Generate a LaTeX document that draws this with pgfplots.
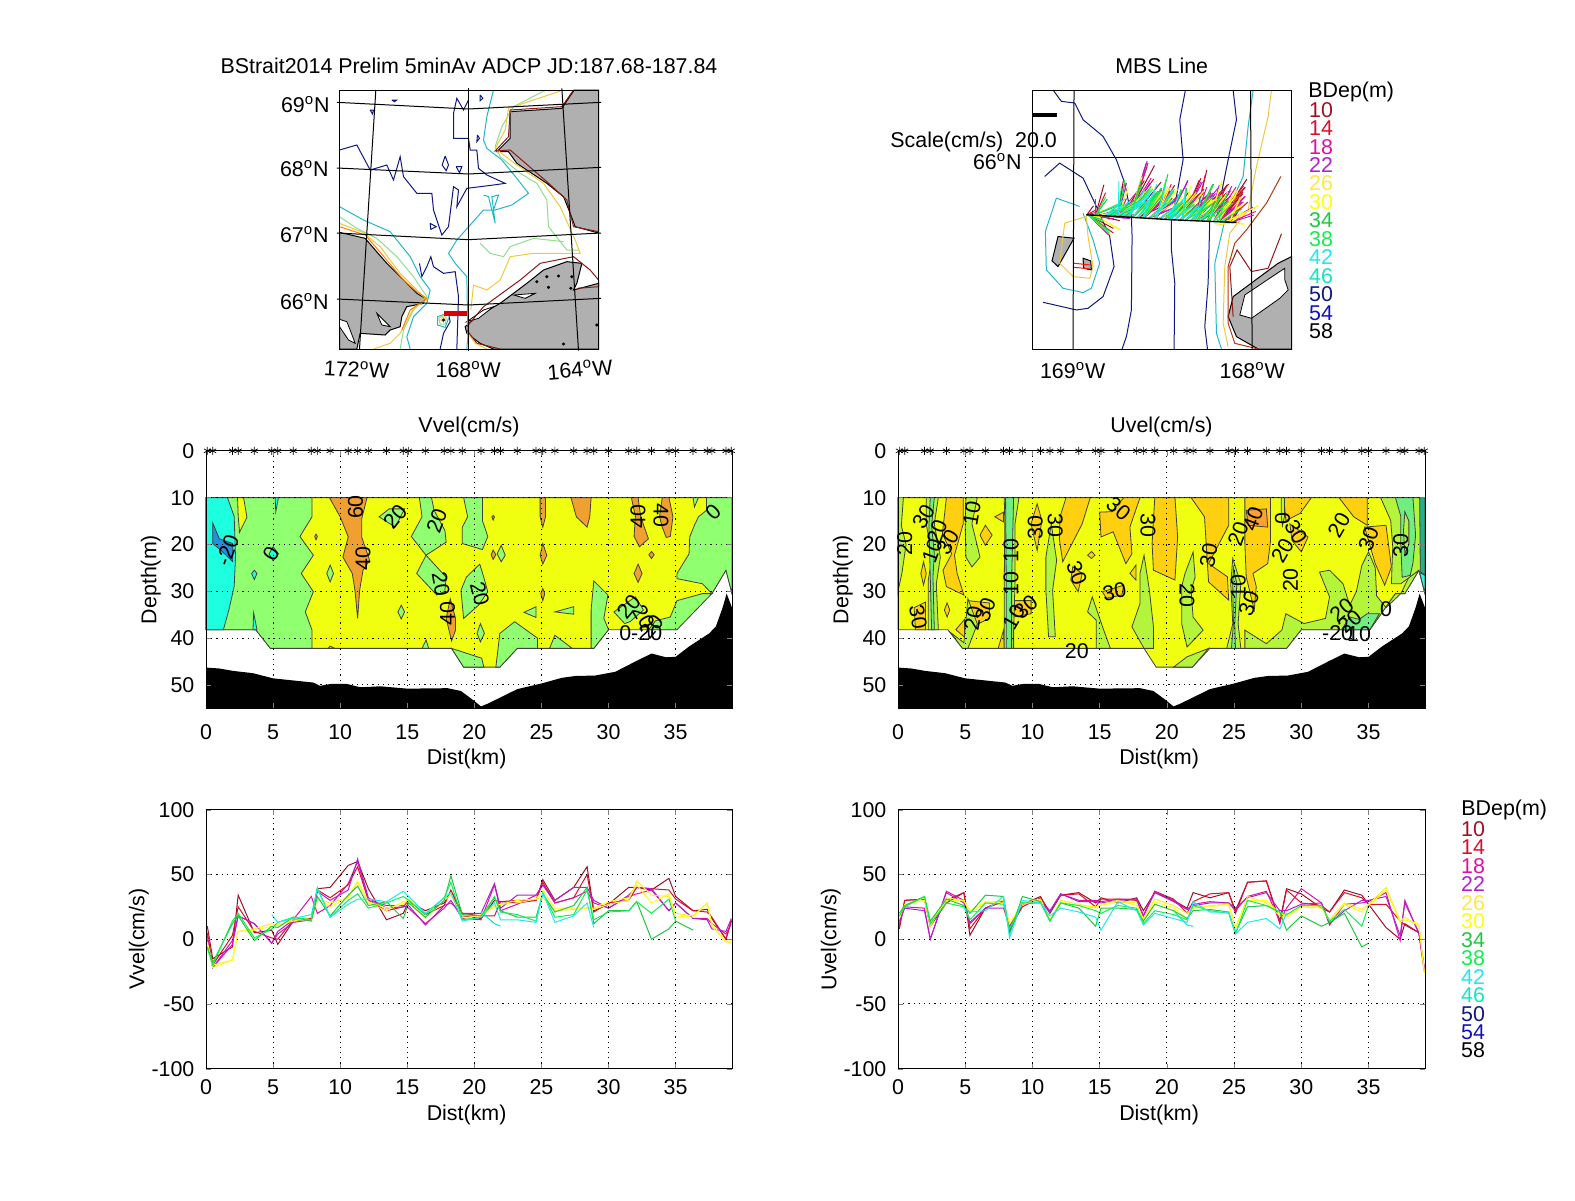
\documentclass[border=0pt]{standalone}
\usepackage{fontspec}
\setmainfont{Liberation Sans}
\usepackage{pgfplots}
\usepackage{pgfplotstable}
\pgfplotsset{compat=1.18}

\definecolor{d10}{HTML}{A00F25}
\definecolor{d14}{HTML}{D81028}
\definecolor{d18}{HTML}{E010A0}
\definecolor{d22}{HTML}{B020D0}
\definecolor{d26}{HTML}{FFE840}
\definecolor{d30}{HTML}{FFFF10}
\definecolor{d34}{HTML}{20C840}
\definecolor{d38}{HTML}{10F050}
\definecolor{d42}{HTML}{20E8F0}
\definecolor{d46}{HTML}{10E8C0}
\definecolor{d50}{HTML}{101880}
\definecolor{d54}{HTML}{1010C0}
\definecolor{d58}{HTML}{000000}
\definecolor{landgray}{HTML}{B0B0B0}
\definecolor{fcyan}{HTML}{1EFFE0}
\definecolor{fblue}{HTML}{2090E0}
\definecolor{fgreen}{HTML}{90FF70}
\definecolor{fyellow}{HTML}{F0FF10}
\definecolor{forange}{HTML}{F0A030}
\definecolor{ugold}{HTML}{FFD010}
\definecolor{uorange}{HTML}{FFA030}
\definecolor{ulime}{HTML}{B4F53C}
\definecolor{ugreen}{HTML}{70EE80}
\definecolor{uteal}{HTML}{20B090}
\definecolor{ccyan}{HTML}{20B8C8}
\definecolor{cgreen}{HTML}{90DC90}
\definecolor{cyell}{HTML}{F0C840}
\definecolor{cred}{HTML}{901818}

% velocities at each station: v then u (cm/s) for bin depths 10..46 m
\pgfplotstableread{
x v10 v14 v18 v22 v26 v30 v34 v38 v42 v46 u10 u14 u18 u22 u26 u30 u34 u38 u42 u46
0.1 10 5 3 0 -2 -4 -6 -7 nan nan 8 10 12 14 18 16 20 18 nan nan
0.5 -15 -20 -22 -22 -20 -22 -18 -20 nan nan 30 30 25 24 26 27 26 25 nan nan
1.97 -6 3 -4 -1 -16 -16 12 14 nan nan 31 31 24 22 32 30 33 33 nan nan
2.4 34 25 18 18 6 6 18 20 nan nan 10 12 0 0 10 12 14 12 nan nan
3.6 5 6 12 12 8 7 -1 1 nan nan 28 30 37 36 32 30 31 28 nan nan
4.9 7 1 -3 -3 12 10 10 8 19 nan 36 36 30 28 30 30 26 25 24 nan
5.35 -4 0 6 4 11 11 9 13 13 nan 3 8 12 13 20 22 20 15 21 nan
6.5 14 15 15 13 15 14 17 17 16 nan 24 24 24 24 28 29 34 28 22 nan
7.85 16 16 33 15 15 17 14 15 19 nan 29 30 30 24 30 28 33 27 33 nan
8.3 39 38 20 37 31 32 33 40 39 nan 6 8 10 10 12 12 4 8 1 nan
9.25 40 32 26 30 28 25 18 17 17 nan 27 25 27 28 28 27 33 28 30 nan
10.6 57 42 43 38 32 33 34 30 27 nan 33 32 29 28 31 30 29 28 28 nan
11.3 60 56 60 62 44 45 41 35 31 nan 20 21 22 21 14 15 14 14 18 nan
12.1 39 30 30 32 28 29 26 24 31 nan 34 34 35 35 30 29 28 28 24 nan
13.45 15 22 26 24 22 24 29 28 29 nan 36 35 30 29 27 26 24 26 21 nan
14.7 20 25 26 25 29 27 16 33 37 nan 28 25 30 29 24 25 10 22 17 nan
15.1 29 30 24 26 29 31 28 30 33 nan 32 31 29 28 27 26 24 20 7 nan
16.35 22 19 12 11 16 20 17 19 20 nan 28 31 31 30 30 29 24 26 29 nan
17.75 28 26 24 26 30 32 30 32 32 nan 32 30 31 31 26 28 23 24 22 nan
18.25 37 38 30 28 34 36 49 44 36 nan 22 18 18 18 16 14 14 12 11 nan
19.1 18 20 16 20 18 15 19 15 14 nan 36 37 37 36 31 29 27 22 20 nan
20.5 16 18 15 20 18 19 18 17 17 21 30 31 30 29 26 24 22 19 16 22
21.5 30 18 42 43 25 26 32 33 28 12 24 20 23 23 20 16 16 15 13 11
21.95 29 29 22 24 27 27 22 21 15 10 36 29 27 26 24 25 22 26 29 10
23.2 28 30 27 34 28 30 17 19 15 nan 32 35 29 28 26 25 23 22 21 nan
24.6 30 30 34 34 31 31 17 14 13 nan 36 36 28 28 27 27 21 20 21 nan
25.1 46 44 42 42 32 38 35 36 36 nan 22 20 22 24 8 10 5 4 4 nan
26 30 28 28 30 22 24 21 17 13 nan 44 44 33 32 33 30 25 30 13 nan
27.4 40 32 32 40 23 24 26 19 18 nan 45 45 37 36 28 30 26 26 16 nan
28.4 56 50 37 40 24 24 40 38 28 nan 14 12 14 22 18 20 21 21 8 nan
28.9 22 21 28 30 23 24 12 15 9 nan 39 38 24 22 17 18 7 19 20 nan
30 27 28 24 24 27 29 22 21 nan nan 35 28 39 27 25 25 18 26 nan nan
31.5 40 30 33 34 30 32 22 22 nan nan 24 26 28 28 24 25 10 26 nan nan
32.1 40 40 35 40 45 42 29 29 nan nan 21 21 11 12 15 14 13 14 nan nan
33.2 38 39 38 39 34 28 0 20 nan nan 38 36 27 22 28 27 20 23 nan nan
34.5 47 38 22 22 33 35 8 31 nan nan 34 32 28 30 23 21 -6 10 nan nan
35 33 31 28 28 20 18 14 14 nan nan 27 27 29 30 27 26 -3 26 nan nan
36.3 22 22 16 16 18 17 7 nan nan nan 9 27 36 33 40 38 nan nan nan nan
37.35 23 21 16 15 28 28 nan nan nan nan 0 14 -1 3 14 13 nan nan nan nan
37.7 16 17 12 8 10 12 nan nan nan nan 12 11 30 28 17 15 nan nan nan nan
38.75 0 0 4 6 -2 -2 nan nan nan nan 5 5 4 5 10 12 nan nan nan nan
39.15 14 15 12 16 -3 -1 nan nan nan nan -22 -24 -25 -23 -25 -26 nan nan nan nan
}\veltab

% sampled section (distance, depth)
\pgfplotstableread{
x y
0 10
39.2 10
39.2 30.5
38.75 25.5
37.7 30.5
37 30.5
35.1 38.2
30 38.2
28.9 42.2
23.2 42.2
21.9 46.2
19.2 46.2
18.3 42.2
4.8 42.2
3.7 38.2
0 38.2
}\domaintab

% bottom (distance, depth)
\pgfplotstableread{
x y
0 46.3
1 46.5
2 47
3.5 47.5
5 48.6
7 49.2
8 49.5
8.5 50.2
9.3 49.8
10.5 49.8
11.5 50.5
13 50.3
15 50.8
18 50.7
19 51.3
19.8 53
20.5 54.6
21 54
22 52.6
23.2 50.9
25 49.7
26.5 48.5
27.5 48.1
29 48
30.5 47.2
32 45
33.2 43.3
34.3 44.1
35 44
36 41.8
37.5 39
38 37.5
38.5 33.5
38.8 30.5
39.2 33.5
39.2 55
0 55
}\bathytab

\pgfplotsset{
  panel/.style={
    scale only axis, axis on top,
    tick align=inside, major tick length=2.5pt,
    every axis/.append style={line width=0.5pt},
    /pgf/number format/assume math mode=true,
    xlabel shift=-3pt, ylabel shift=-4pt,
    title style={yshift=-3pt},
    yticklabel style={xshift=-2pt},
    xlabel style={xshift=-1.2pt},
  },
  griddots/.style={grid=major, major grid style={dash pattern=on 0.6pt off 2pt, black, line width=0.5pt}},
  sect/.style={panel, griddots, width=263pt, height=128.75pt,
    xmin=0, xmax=39.2, ymin=0, ymax=55, y dir=reverse, clip=false,
    xtick={0,5,...,35}, ytick={0,10,...,50},
    xticklabel style={yshift=-4.5pt},
    ylabel shift=-2.5pt,
    xlabel={Dist(km)}, ylabel={Depth(m)}},
  prof/.style={panel, griddots, width=263pt, height=129.5pt,
    xmin=0, xmax=39.2, ymin=-100, ymax=100,
    xtick={0,5,...,35}, ytick={-100,-50,0,50,100},
    xticklabel style={yshift=-1.5pt},
    xlabel shift=-2pt, ylabel shift=-6pt,
    xlabel={Dist(km)}},
  map/.style={panel, width=129.5pt, height=129.5pt, y dir=reverse,
    xtick=\empty, ytick=\empty, clip=false, title style={yshift=1.5pt}},
  rim/.style={draw=black!75, line width=0.4pt},
}
\newcommand\poly[2]{\addplot[fill=#1, rim] coordinates {#2} -- cycle;}
\newcommand\cnt[2]{\addplot[#1, line width=0.5pt] coordinates {#2};}
\newcommand\landp[1]{\addplot[fill=landgray, draw=black, line width=0.5pt] coordinates {#1} -- cycle;}
\newcommand\hole[1]{\addplot[fill=white, draw=black, line width=0.4pt] coordinates {#1} -- cycle;}
\newcommand\lbl[4]{\node[rotate=#4] at (axis cs:#1,#2) {#3};}
\newcommand\lab[4][center]{\node[anchor=#1, inner sep=0pt] at ({#2*0.5pt},{-#3*0.5pt}) {#4};}
\newcommand\dg[1]{#1\textsuperscript{o}}
\newcommand\stations{\addplot[only marks, mark=asterisk, mark size=2pt, mark options={line width=0.35pt}, black] table[x=x, y expr=0] {\veltab};}
\newcommand\prline[2]{\addplot[#1, line width=0.5pt, unbounded coords=jump] table[x=x, y=#2] {\veltab};}
% one stick per station; the optional argument skips rows with no value at that depth
\newcommand\stick[2][]{\addplot[d#2, line width=0.5pt, #1,
  quiver={u=\thisrow{u#2}*2.5, v=-\thisrow{v#2}*2.7}]
  table[x expr=620+11.48*\thisrow{x}, y expr=495+0.587*\thisrow{x}] {\veltab};}

\begin{document}
\fontsize{10.7pt}{13pt}\selectfont
\begin{tikzpicture}
\path[use as bounding box] (0,-600pt) rectangle (787.5pt,0);

% ---- overview map
\begin{axis}[map, name=m1, at={(169.75pt,-174.5pt)}, anchor=south west,
  xmin=418, xmax=1195, ymin=120, ymax=897,
  title={BStrait2014 Prelim 5minAv ADCP JD:187.68-187.84}]
\landp{(1122,120)(1085,175)(930,185)(930,265)(890,305)(925,305)(950,340)(1040,400)(1090,440)(1110,490)(1125,530)(1195,549)(1195,120)}
\landp{(418,547)(495,565)(525,600)(560,640)(620,700)(650,730)(675,745)(670,760)(620,770)(605,800)(600,830)(570,840)(555,855)(480,850)(470,897)(418,897)}
\hole{(418,808)(440,815)(450,840)(465,880)(445,870)(418,830)}
\hole{(530,790)(550,810)(570,830)(545,825)}
\landp{(795,830)(830,800)(900,760)(980,700)(1030,660)(1100,635)(1145,640)(1130,700)(1120,720)(1195,700)(1195,897)(880,897)(840,880)(800,850)}
\hole{(940,735)(1005,730)(975,745)}
\hole{(800,815)(850,780)(880,770)(835,805)}
\cnt{d50}{(418,300)(470,285)(510,360)(560,345)(580,390)(600,320)(610,380)(650,430)(695,430)(700,480)(725,555)(745,530)(760,410)(775,420)(770,470)(800,415)(880,405)(915,400)(860,375)(835,355)(830,300)(810,300)(805,265)(760,265)(760,190)(770,145)(790,180)(805,150)}
\cnt{d50}{(658,640)(665,680)(680,650)(692,620)(700,650)(730,670)(765,665)(775,740)(770,897)}
\cnt{d50}{(745,790)(750,815)(730,850)(720,897)}
\cnt{d50}{(575,150)(590,150)(583,155)(575,150)}
\cnt{d50}{(510,180)(520,180)(517,192)(510,180)}
\cnt{d50}{(735,318)(745,345)(738,362)(726,345)(735,318)}
\cnt{d50}{(768,350)(785,350)(778,368)(768,350)}
\cnt{d50}{(690,520)(708,530)(692,538)(690,520)}
\cnt{d50}{(832,255)(838,265)(830,275)(832,255)}
\cnt{d50}{(840,135)(848,145)(840,152)(840,135)}
\cnt{ccyan}{(418,470)(490,510)(570,545)(630,620)(660,680)(690,720)(680,760)(640,800)(620,860)(630,897)}
\cnt{ccyan}{(880,120)(860,200)(850,270)(860,295)(905,330)(950,385)(985,430)(935,465)(885,480)(850,480)(770,570)(745,610)(765,640)(800,680)(803,860)(800,897)}
\cnt{ccyan}{(850,435)(865,440)(885,520)(875,440)(895,435)(880,480)}
\cnt{ccyan}{(740,790)(712,800)(712,825)(735,832)(745,805)}
\cnt{cgreen}{(730,795)(716,805)(720,822)(735,822)(738,803)(730,795)}
\cnt{cyell}{(728,800)(722,810)(730,816)(733,805)(728,800)}
\cnt{cgreen}{(1037,120)(940,170)(905,230)(885,290)(900,320)(960,370)(1010,400)(1040,450)(1045,530)(1100,600)(1135,600)}
\cnt{cgreen}{(840,580)(870,610)(910,620)(930,590)(1000,565)(1090,575)}
\cnt{cgreen}{(418,500)(470,535)(530,565)(590,620)(640,680)(680,740)(640,780)(610,840)(600,897)}
\cnt{cyell}{(1090,120)(925,175)(915,240)(885,295)(950,345)(1030,400)(1080,470)(1125,570)(1140,610)(1000,610)(930,620)(900,690)(860,720)(820,705)(812,780)}
\cnt{cyell}{(418,520)(490,548)(540,590)(600,670)(660,730)(680,750)(640,775)(600,850)(570,880)(520,897)}
\cnt{orange}{(418,530)(495,555)(530,595)(610,690)(650,725)(680,745)(630,780)(605,840)}
\cnt{cred}{(1120,120)(1085,170)(930,180)(925,260)(885,303)(930,300)(1040,395)(1100,450)(1120,530)(1195,545)}
\cnt{cred}{(800,830)(850,770)(960,690)(1020,640)(1120,620)(1170,660)(1195,690)(1195,710)(1130,715)}
\cnt{cred}{(800,840)(830,880)(900,897)}
\cnt{cyell}{(803,850)(825,880)(860,897)}
\cnt{black}{(527,120)(478,897)}
\cnt{black}{(805,115)(805,902)}
\cnt{black}{(1085,115)(1135,902)}
\cnt{black}{(410,157)(805,177)(1203,157)}
\cnt{black}{(410,354)(805,372)(1203,352)}
\cnt{black}{(410,549)(805,569)(1203,549)}
\cnt{black}{(410,747)(805,765)(1203,745)}
\addplot[only marks, mark=*, mark size=0.5pt, black] coordinates {(1040,680)(1075,678)(1010,695)(1045,712)(1115,680)(1112,715)(1090,882)(730,810)(1190,825)};
\addplot[red!85!black, line width=2.2pt] coordinates {(730,790)(800,790)};
\end{axis}

% ---- section map
\begin{axis}[map, name=m2, at={(516pt,-174.5pt)}, anchor=south west,
  width=129.75pt, xmin=457, xmax=1235, ymin=121, ymax=897,
  title={MBS Line}]
\landp{(1235,620)(1195,640)(1060,740)(1045,800)(1070,860)(1135,897)(1235,897)}
\hole{(1095,735)(1195,668)(1215,655)(1215,690)(1225,720)(1200,745)(1115,805)(1080,795)}
\landp{(535,560)(583,565)(535,650)(517,633)}
\landp{(610,625)(633,633)(635,660)(612,655)}
\cnt{d50}{(520,121)(545,155)(585,160)(610,210)(670,260)(710,330)(735,400)(755,500)(757,560)(755,780)(740,860)(727,897)}
\cnt{d50}{(917,121)(900,210)(910,330)(890,440)(875,510)(875,600)(885,700)(883,897)}
\cnt{d50}{(1060,121)(1070,210)(1045,330)(1025,430)(990,510)(985,700)(975,830)(983,897)}
\cnt{d50}{(495,380)(540,340)(610,385)(650,470)(690,560)(703,650)(670,740)(625,775)(590,780)(490,757)}
\cnt{ccyan}{(1120,121)(1105,230)(1090,380)(1040,490)(1005,640)(1010,850)(1025,897)}
\cnt{ccyan}{(600,470)(530,445)(497,545)(500,660)(550,715)(610,728)(635,715)(660,640)(640,570)(610,490)}
\cnt{cyell}{(1175,121)(1165,200)(1130,350)(1105,480)(1050,550)(1035,650)(1030,820)(1045,890)}
\cnt{cyell}{(620,500)(555,520)(540,640)(580,680)(630,685)(640,650)(625,560)(620,500)}
\cnt{cred!70!orange}{(1203,380)(1160,460)(1130,500)(1100,540)(1065,580)(1045,650)(1045,820)(1065,880)(1135,897)}
\cnt{cred}{(1205,552)(1165,655)(1115,665)(1072,600)(1050,650)(1060,800)}
\cnt{red!80!orange}{(583,640)(630,645)}
\cnt{red!80!orange}{(583,652)(630,657)}
\cnt{black}{(583,121)(580,897)}
\cnt{black}{(1112,121)(1117,897)}
\cnt{black}{(447,322)(1242,322)}
\addplot[black, line width=2pt] coordinates {(457,195)(533,195)};
\stick{10}
\stick{14}
\stick{18}
\stick{22}
\stick{26}
\stick{30}
\stick[skip coords between index={37}{42}]{34}
\stick[skip coords between index={37}{42}]{38}
\stick[skip coords between index={0}{5},skip coords between index={31}{42}]{42}
\stick[skip coords between index={0}{21},skip coords between index={24}{42}]{46}
\addplot[black, line width=0.7pt] coordinates {(620,495)(765,503)(880,510)(1070,518)};
\end{axis}

% ---- Vvel section
\begin{axis}[sect, at={(103pt,-354.15pt)}, anchor=south west, title={Vvel(cm/s)}]
\addplot[fill=fyellow, rim] table {\domaintab} -- cycle;
\poly{fgreen}{(0,10)(7.9,10)(7.9,14.1)(7,18.3)(8,22.3)(7.1,26.2)(8,30.1)(7.4,34.4)(7.9,38.3)(7.9,42.2)(4.8,42.2)(3.7,38.2)(0,38.2)}
\poly{fyellow}{(2.35,10)(2.8,10)(3.05,14.2)(2.5,17.4)(2.4,14)}
\poly{fcyan}{(0,10)(1.6,10)(2.1,14)(2.2,22.7)(2.1,29)(1.7,34)(1.3,38.2)(0,38.2)}
\poly{fblue}{(0.5,15.4)(1,18.8)(2,19.8)(2,23.7)(1.1,21.2)(0.5,19.8)}
\poly{fcyan}{(5,20.5)(5.4,22)(5,23.5)(4.7,22)}
\poly{fcyan}{(3.6,25.5)(3.8,26.2)(3.6,27.5)(3.4,26.2)}
\poly{fcyan}{(5.15,10)(5.4,10)(5.2,13)}
\poly{fcyan}{(3.55,34.6)(3.8,38.2)(3.5,38.2)}
\poly{forange}{(9.2,10)(12,10)(11.6,14.6)(11.6,18.4)(12.2,23.4)(11.7,25.5)(11.45,29.8)(11.3,35.8)(11.1,29.8)(10.9,26.2)(10.2,22.7)(10.6,18.4)(10,14.1)}
\poly{fgreen}{(12.9,14.1)(13.65,12.4)(14.8,12.4)(14.1,16.3)}
\poly{fgreen}{(15.9,10)(16.8,10)(17,12.7)(17.8,17)(17.9,19.5)(16.4,22.3)(15.3,18.3)(16.1,14.1)}
\poly{fgreen}{(16.4,22.3)(17.9,27)(17.8,30)(17.2,30.8)(15.7,26.2)}
\poly{fgreen}{(19.2,10)(20.6,10)(20.6,14.9)(21,18.3)(20.6,21.1)(19.1,19.8)(19.1,16.3)(19.5,14.1)}
\poly{fgreen}{(20.4,24.2)(20.7,27)(21,30.1)(20.3,33)(19.2,35.8)(19,29.8)(19.4,27)}
\poly{forange}{(18.2,31.6)(18.6,35.8)(18.6,38.3)(18.3,40.6)(17.9,35.8)}
\poly{forange}{(24.9,10)(25.3,10)(25.3,14.1)(25.1,16.3)(24.9,14.1)}
\poly{forange}{(25.1,19.8)(25.4,22.3)(25.1,24.2)(24.9,22.3)}
\poly{forange}{(27.2,10)(28.7,10)(28.6,14.1)(28.4,16.3)(27.6,14.1)}
\poly{forange}{(31.7,10)(32.2,10)(32.4,14.1)(32.97,18.8)(32.3,20.5)(31.9,18.3)(32,14)}
\poly{forange}{(34,10)(34.5,10)(34.8,14.1)(34.6,18.3)(34.3,18.5)(34,16.3)(33.8,14.1)}
\poly{forange}{(32.2,24.2)(32.5,26.2)(32.2,28.1)(31.9,26.2)}
\poly{forange}{(25.1,29.4)(25.25,30.5)(25.1,32)(24.95,30.5)}
\poly{forange}{(33.2,21.5)(33.4,22.2)(33.2,23)(33,22.2)}
\poly{forange}{(21.4,21.2)(21.6,22.2)(21.4,23.2)(21.25,22.2)}
\poly{forange}{(8.2,17.8)(8.3,18.3)(8.2,19)(8.1,18.3)}
\poly{forange}{(21.4,13.8)(21.5,14.1)(21.4,14.8)(21.3,14.1)}
\poly{fgreen}{(22,20.2)(22.3,22.3)(22,23.7)(21.7,22)}
\poly{fgreen}{(9.25,24.4)(9.5,26.2)(9.25,28)(9,26.2)}
\poly{fgreen}{(14.55,33)(14.8,34.4)(14.55,35.9)(14.3,34.4)}
\poly{fgreen}{(20.45,36.9)(20.75,39)(20.45,40.8)(20.2,39)}
\poly{fgreen}{(23.7,34.5)(24.6,33.3)(24.6,35.6)}
\poly{fgreen}{(26,34.4)(27.4,33.3)(27.4,34.9)}
\poly{fgreen}{(28.9,27.8)(29.95,30.8)(29.65,35.8)(30,38.2)(28.9,42.2)(28.7,42.2)(28.7,34)}
\poly{fgreen}{(23,36.5)(24.7,40)(24.7,42.2)(23.2,42.2)(21.9,46.2)(21.6,46.2)(21.9,39)}
\poly{fgreen}{(26,39.4)(27.3,42.2)(25.6,42.2)}
\poly{fgreen}{(18.3,42.2)(20.55,44.3)(20.7,46.2)(19.2,46.2)}
\poly{fgreen}{(16.4,40.4)(16.6,42.2)(16.1,42.2)}
\poly{fgreen}{(9.25,41.7)(9.6,42.2)(9.1,42.2)}
\poly{fgreen}{(36.3,10)(36.7,10)(36.4,12)}
\poly{fgreen}{(37.3,10)(39.2,10)(39.2,30.5)(38.75,25.5)(37.7,30.5)(37,28.4)(35.1,27.3)(35.1,26.2)(36,22)(36.05,18.4)(36.4,15.9)(36.7,14.1)(37.3,12.7)}
\poly{fgreen}{(37.7,30.5)(37,30.5)(35.1,32)(34.6,35.5)(33.5,36.3)(33,38.2)(35.1,38.2)}
\poly{fgreen}{(30.4,34.4)(32,31.2)(32.6,34)(31.6,36.5)(31.2,36.9)}
\addplot[fill=black, draw=none] table {\bathytab} -- cycle;
\stations
\lbl{1.6}{21.3}{-20}{70}
\lbl{4.85}{22}{0}{60}
\lbl{11.15}{12}{60}{90}
\lbl{11.7}{23}{40}{90}
\lbl{14.1}{14.1}{20}{50}
\lbl{17.2}{14.9}{20}{70}
\lbl{17.5}{28.4}{20}{-80}
\lbl{18}{34.8}{40}{90}
\lbl{20.4}{30.5}{20}{-75}
\lbl{32.2}{14.1}{40}{90}
\lbl{33.9}{13.8}{40}{-90}
\lbl{37.8}{13}{0}{45}
\lbl{31.5}{33.3}{20}{50}
\lbl{32.6}{35.5}{20}{-60}
\lbl{33.2}{37.6}{20}{50}
\lbl{32.4}{38.9}{0-20}{0}
\end{axis}

% ---- Uvel section
\begin{axis}[sect, at={(449pt,-354.15pt)}, anchor=south west, width=263.5pt, title={Uvel(cm/s)}]
\addplot[fill=fyellow, rim] table {\domaintab} -- cycle;
\poly{ulime}{(25.8,42.2)(25.8,38.3)(27.4,41.2)(28.55,38.3)(28.85,34.8)(30.2,36.9)(31.8,35.8)(32.1,31.2)(31.35,25.9)(32.1,25.5)(33.1,28.4)(33.6,33)(34.1,30)(34.5,24.5)(35,21.6)(35.5,25)(35.6,31)(36.3,33.5)(37.4,30.5)(38,27)(38.75,25.5)(37.7,30.5)(37,30.5)(35.1,38.2)(30,38.2)(28.9,42.2)}
\poly{ugreen}{(33,38.2)(33.6,35.5)(34.3,36)(34.9,34.8)(35.8,34.8)(35.1,38.2)}
\poly{ulime}{(35.9,10)(39.2,10)(39.2,30.5)(38.75,25.5)(37.4,28.4)(36.7,28.4)(36.8,20.5)(36.65,14.9)}
\poly{ugreen}{(37,10)(38.3,10)(38.5,18)(38.3,24)(38.1,26.6)(37.5,27)(37.4,20)(37.4,14)}
\poly{ulime}{(37.7,13)(38,15)(38,20)(37.7,22)(37.6,17)}
\poly{uteal}{(38.8,10)(39.2,10)(39.2,26.6)(38.85,25.8)}
\poly{fcyan}{(38.8,26)(39.2,26.6)(39.2,30.5)}
\poly{ugold}{(3.6,10)(4.85,10)(4.85,15.6)(4.2,22.3)(4.4,26.2)(4.9,30.8)(3.6,29)(3.35,25.5)(4,22)(3.3,17.7)}
\poly{ugold}{(12.5,10)(14.3,10)(13.7,15.6)(12.25,23.7)(12,18.8)(12.05,14.1)}
\poly{ugold}{(16.8,10)(18,10)(17.25,16.3)(17.4,22)(16.95,24.1)(16,17.3)(15.1,18.4)(15,13.1)(15.9,13)}
\poly{ugold}{(19.1,10)(20.6,10)(20.8,18.4)(20.6,27.6)(19,25.5)(18.9,19.8)}
\poly{ugold}{(21.8,10)(24.6,10)(24.6,15.9)(23.1,24.1)(24.5,26.9)(24.6,31.9)(23.1,28)(22.8,14.1)}
\poly{ugold}{(25.8,10)(27.7,10)(27.7,19.5)(27.5,24.1)(26.4,26.2)(26.65,29)(26.5,34)(25.9,26.9)(25.8,19.8)}
\poly{uorange}{(25.9,12.7)(27.4,12.4)(27.5,16.3)(26.05,15.9)}
\poly{ugold}{(28.7,10)(30.75,10)(29.9,13.4)(28.85,14.9)}
\poly{ugold}{(32.8,10)(34.9,10)(34.9,15.9)(33.9,14.1)}
\poly{ugold}{(34.7,16.3)(36.3,15.9)(36.7,24.8)(36.2,28.7)(35.5,24.1)}
\poly{ugold}{(7.85,13.1)(7.85,15.2)(7.2,14.1)}
\poly{ugold}{(6.5,15.9)(7,18)(6.5,20.2)(6.1,18)}
\poly{ugold}{(1.9,23.7)(2.1,26.2)(1.9,28.7)(1.7,26.2)}
\poly{ugold}{(3.65,32.5)(3.85,34)(3.65,35.5)(3.45,34)}
\poly{ugold}{(4.3,38.2)(4.95,36)(4.95,39.8)}
\poly{ugold}{(1.2,33.5)(2.05,32.3)(2.05,38.2)(1.3,38.2)}
\poly{ugold}{(5.2,32)(6.8,32.5)(6.8,35.8)(5.5,37.6)}
\poly{ugold}{(8.6,32)(9.9,32)(9.9,34.8)(8.6,35.5)}
\poly{ugold}{(10.35,11.3)(10.7,14.9)(10.35,21.3)(9.9,15.6)}
\poly{ugold}{(17.7,24.4)(17.7,27.6)(17.25,26.2)}
\poly{ugold}{(7.85,38.3)(7.9,42.2)(7.45,42.2)}
\poly{ugold}{(13,24.8)(13.7,26.2)(13.4,30.1)(12.85,27.6)}
\poly{ugold}{(15.2,30.1)(16.8,28.7)(16.65,30.8)(15.5,31.5)}
\poly{ugold}{(29.15,15.6)(30.5,18.4)(30,21.6)(29.3,19.1)}
\poly{ugold}{(14.4,21.5)(14.65,22.3)(14.4,23)(14.1,22.3)}
\poly{ulime}{(0,10)(0.4,10)(0.25,16)(0.6,20)(0.3,26)(0,30)}
\poly{ulime}{(2.1,10)(3,10)(2.7,15.6)(3.15,22.7)(2.85,28.4)(3,38.2)(2.25,38.2)(2.25,27.6)(2.55,22.7)(2.1,15.6)}
\poly{ugreen}{(2.4,10)(2.7,10)(2.5,16)(2.7,22)(2.6,27)(2.7,38.2)(2.5,38.2)(2.4,27)(2.3,16)}
\poly{ulime}{(5.05,10)(5.9,10)(5.5,15.6)(6.1,22.7)(5.5,24.8)(5.05,22.7)(5,15.6)}
\poly{ulime}{(5.2,31.6)(5.9,37)(5.2,42.2)(4.8,42.2)(3.9,38.8)(4.9,41)}
\poly{ulime}{(7.9,10)(9,10)(8.7,15.6)(8.7,28.4)(8.6,38.3)(8.6,42.2)(7.9,42.2)(7.9,28.4)(7.95,15.6)}
\poly{ugreen}{(8,10)(8.6,10)(8.45,28)(8.45,42.2)(8.05,42.2)(8.05,28)}
\poly{ulime}{(11.4,15.6)(11.8,23.4)(11.5,29.8)(11.7,39.7)(11.2,39.7)(11,29.8)(11,22.7)}
\poly{ulime}{(14.45,31.2)(15.3,38.3)(15.8,42.2)(14.75,42.2)(14.75,36.2)(14.1,34.4)}
\poly{ulime}{(18.3,22.3)(18.7,29.8)(19,37.6)(19,42.2)(18.3,42.2)(17.4,37.6)(18,32.6)(18,26.2)}
\poly{ulime}{(21.95,21.6)(22.1,27)(21.8,29.8)(21.95,35.5)(22.7,38.3)(21.5,41.9)(21.1,36.9)(21.1,29)(21.35,26.2)}
\poly{ulime}{(20.5,46.2)(21.5,44)(23.1,42.2)(21.9,46.2)}
\poly{ulime}{(24.9,23)(25.5,28.4)(25.3,36.9)(25.5,42.2)(24.45,42.2)(24.9,36.9)(24.75,28.4)}
\poly{ugreen}{(24.95,25)(25.2,28.4)(25.05,37)(25.1,42.2)(24.8,42.2)(24.95,37)(24.9,28.4)}
\poly{ulime}{(28.5,10)(28.75,10)(28.75,14)(28.6,16)(28.5,14)}
\addplot[fill=black, draw=none] table {\bathytab} -- cycle;
\stations
\lbl{0.5}{19.8}{20}{90}
\lbl{1.9}{14.1}{30}{60}
\lbl{1.5}{35.5}{30}{-80}
\lbl{2.9}{17.3}{20}{70}
\lbl{2.55}{21.3}{10}{70}
\lbl{3.7}{19.5}{30}{60}
\lbl{5.5}{13.4}{10}{80}
\lbl{5.6}{35.8}{20}{80}
\lbl{6.5}{34}{30}{70}
\lbl{8.4}{21.3}{10}{90}
\lbl{8.4}{28.4}{10}{90}
\lbl{8.6}{35.5}{10}{60}
\lbl{9.5}{33.3}{30}{40}
\lbl{10.2}{16.3}{30}{90}
\lbl{11.7}{15.9}{30}{-90}
\lbl{13.3}{26.2}{30}{-70}
\lbl{16.4}{12.4}{30}{-40}
\lbl{16.1}{30.1}{30}{10}
\lbl{13.3}{42.7}{20}{0}
\lbl{18.6}{15.9}{30}{-90}
\lbl{21.5}{30.8}{20}{-90}
\lbl{23.1}{22.3}{30}{80}
\lbl{25.3}{29}{10}{90}
\lbl{26.1}{32.6}{30}{70}
\lbl{25.3}{17.7}{20}{70}
\lbl{26.4}{14.5}{40}{70}
\lbl{28.6}{21.3}{20}{60}
\lbl{28.6}{14.5}{0}{90}
\lbl{29.6}{17.3}{30}{-60}
\lbl{29.2}{27.6}{20}{90}
\lbl{32.8}{15.9}{20}{60}
\lbl{35}{18.8}{30}{70}
\lbl{37.4}{20.2}{30}{90}
\lbl{36.3}{33.8}{0}{0}
\lbl{32.7}{38.9}{-20}{0}
\lbl{34.3}{39.2}{10}{0}
\lbl{33}{34}{20}{40}
\lbl{33.6}{36.5}{20}{40}
\end{axis}

% ---- profiles
\begin{axis}[prof, at={(103pt,-534.35pt)}, anchor=south west, ylabel={Vvel(cm/s)}]
\prline{d10}{v10}
\prline{d14}{v14}
\prline{d18}{v18}
\prline{d22}{v22}
\prline{d26}{v26}
\prline{d30}{v30}
\prline{d34}{v34}
\prline{d38}{v38}
\prline{d42}{v42}
\prline{d46}{v46}
\end{axis}
\begin{axis}[prof, at={(449pt,-534.35pt)}, anchor=south west, width=263.5pt, ylabel={Uvel(cm/s)}]
\prline{d10}{u10}
\prline{d14}{u14}
\prline{d18}{u18}
\prline{d22}{u22}
\prline{d26}{u26}
\prline{d30}{u30}
\prline{d34}{u34}
\prline{d38}{u38}
\prline{d42}{u42}
\prline{d46}{u46}
\end{axis}

% ---- map labels
\lab[east]{330}{105}{\dg{69}N}
\lab[east]{329}{168.7}{\dg{68}N}
\lab[east]{329}{235}{\dg{67}N}
\lab[east]{329}{301.7}{\dg{66}N}
\node[rotate=-3] at ({356.7*0.5pt},{-369.3*0.5pt}) {\dg{172}W};
\lab{468.3}{369.3}{\dg{168}W}
\node[rotate=5] at ({580*0.5pt},{-369.3*0.5pt}) {\dg{164}W};
\lab{1072.7}{370.7}{\dg{169}W}
\lab{1252.3}{370.7}{\dg{168}W}
\lab[west]{890}{141.7}{Scale(cm/s)\ \ 20.0}
\lab[east]{1022}{161.7}{\dg{66}N}

% ---- depth keys
\lab[west]{1308}{92}{BDep(m)}
\lab[west]{1461}{810}{BDep(m)}
\foreach \dep/\ya/\yb in {10/110/829,14/128/847,18/147/866,22/165/884,26/183/903,30/202/921,34/220/940,38/239/958,42/257/977,46/276/995,50/294/1014,54/313/1032,58/331/1050}{
  \node[text=d\dep] at ({1321*0.5pt},{-\ya*0.5pt}) {\dep};
  \node[text=d\dep] at ({1473*0.5pt},{-\yb*0.5pt}) {\dep};
}
\end{tikzpicture}
\end{document}
